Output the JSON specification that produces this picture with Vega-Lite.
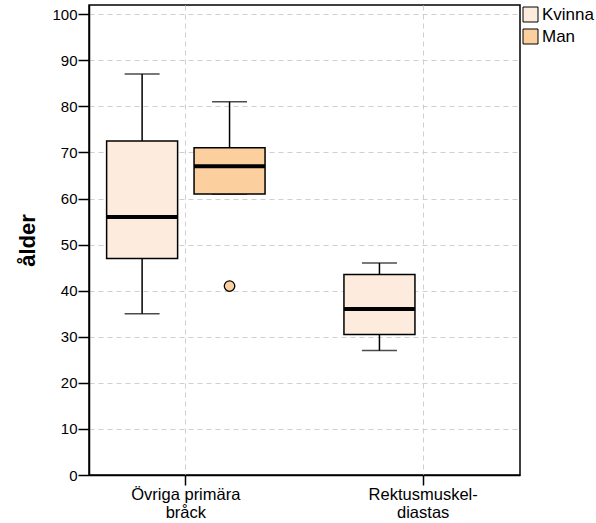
{
  "$schema": "https://vega.github.io/schema/vega-lite/v6.json",
  "width": 431,
  "height": 470,
  "autosize": {"type": "none"},
  "padding": {"left": 89, "top": 5, "right": 76, "bottom": 48},
  "background": "white",
  "config": {
    "font": "Liberation Sans",
    "view": {"stroke": "black", "strokeWidth": 1.5},
    "axis": {"labelColor": "black", "labelFontSize": 15, "domainColor": "black", "domainWidth": 1.5, "tickColor": "black", "tickWidth": 1.5, "gridColor": "#cfcfcf", "gridDash": [5, 4], "gridWidth": 1}
  },
  "datasets": {
    "boxes": [
      {"type": "Övriga primära bråck", "sex": "Kvinna", "lower": 35, "q1": 47, "median": 56, "q3": 72.5, "upper": 87},
      {"type": "Övriga primära bråck", "sex": "Man", "lower": 61, "q1": 61, "median": 67, "q3": 71, "upper": 81},
      {"type": "Rektusmuskel-diastas", "sex": "Kvinna", "lower": 27, "q1": 30.5, "median": 36, "q3": 43.5, "upper": 46}
    ],
    "outliers": [
      {"type": "Övriga primära bråck", "sex": "Man", "value": 41}
    ]
  },
  "encoding": {
    "x": {
      "field": "type", "type": "nominal", "title": null,
      "scale": {"domain": ["Övriga primära bråck", "Rektusmuskel-diastas"], "paddingInner": 0.184, "paddingOuter": 0},
      "axis": {"labelAngle": 0, "grid": true, "bandPosition": 0.5, "tickSize": 10, "labelPadding": 1, "labelFontSize": 16.5, "labelLineHeight": 18,
        "labelExpr": "datum.value == 'Övriga primära bråck' ? ['Övriga primära', 'bråck'] : ['Rektusmuskel-', 'diastas']"}
    },
    "xOffset": {"field": "sex", "type": "nominal", "scale": {"domain": ["Kvinna", "Man"], "paddingInner": 0, "paddingOuter": 0.1075}}
  },
  "layer": [
    {
      "data": {"name": "boxes"},
      "mark": {"type": "rule", "color": "black", "strokeWidth": 1.5},
      "encoding": {
        "y": {"field": "lower", "type": "quantitative", "scale": {"domain": [0, 102], "nice": false},
          "title": "ålder",
          "axis": {"values": [0,5,10,15,20,25,30,35,40,45,50,55,60,65,70,75,80,85,90,95,100],
            "labelExpr": "datum.value % 10 == 0 ? datum.label : ''",
            "tickSize": {"condition": {"test": "datum.value % 10 == 0", "value": 11}, "value": 4},
            "gridOpacity": {"condition": {"test": "datum.value % 10 == 0", "value": 1}, "value": 0},
            "labelPadding": 1,
            "titleFontSize": 22, "titleFontWeight": "bold", "titleColor": "black", "titlePadding": 12}},
        "y2": {"field": "upper"}
      }
    },
    {
      "data": {"name": "boxes"},
      "mark": {"type": "tick", "color": "black", "thickness": 1.5, "size": 35},
      "encoding": {"y": {"field": "upper", "type": "quantitative"}}
    },
    {
      "data": {"name": "boxes"},
      "mark": {"type": "tick", "color": "black", "thickness": 1.5, "size": 35},
      "encoding": {"y": {"field": "lower", "type": "quantitative"}}
    },
    {
      "data": {"name": "boxes"},
      "mark": {"type": "bar", "size": 71, "stroke": "black", "strokeWidth": 1.5, "opacity": 1},
      "encoding": {
        "y": {"field": "q1", "type": "quantitative"},
        "y2": {"field": "q3"},
        "fill": {"field": "sex", "type": "nominal", "scale": {"domain": ["Kvinna", "Man"], "range": ["#FDEBDD", "#FCD09E"]},
          "legend": {"title": null, "orient": "none", "legendX": 433, "legendY": 1, "symbolType": "square", "symbolSize": 225, "symbolStrokeColor": "black", "symbolStrokeWidth": 1, "symbolOpacity": 1, "labelFontSize": 17, "labelColor": "black", "rowPadding": 3, "labelOffset": 3}}
      }
    },
    {
      "data": {"name": "boxes"},
      "mark": {"type": "tick", "color": "black", "thickness": 4, "size": 71, "opacity": 1},
      "encoding": {"y": {"field": "median", "type": "quantitative"}}
    },
    {
      "data": {"name": "outliers"},
      "mark": {"type": "point", "shape": "circle", "filled": true, "size": 110, "fill": "#FCD09E", "stroke": "black", "strokeWidth": 1.3, "opacity": 1},
      "encoding": {"y": {"field": "value", "type": "quantitative"}}
    }
  ]
}
